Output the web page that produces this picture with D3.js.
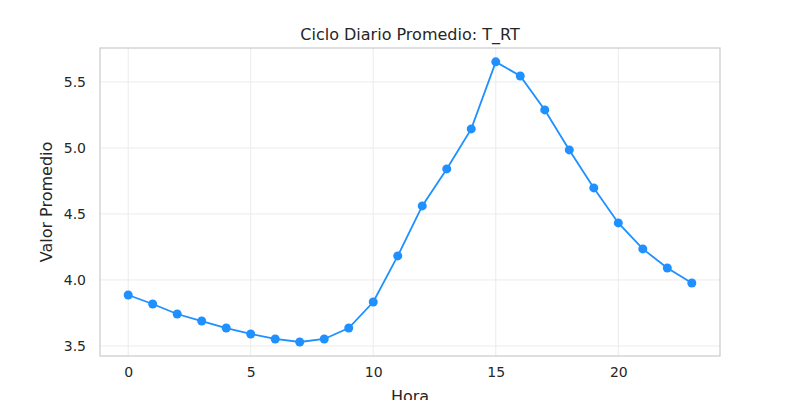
<!DOCTYPE html>
<html><head><meta charset="utf-8">
<script src="https://cdn.jsdelivr.net/npm/d3@7"></script>
<style>body{margin:0;background:#fff}text{font-family:"DejaVu Sans",sans-serif;fill:#262626}</style>
</head><body><div id="chart"></div>
<script>
let horas = d3.range(24);
let valores = [3.886, 3.818, 3.742, 3.689, 3.636, 3.591, 3.553, 3.530, 3.553, 3.636,
  3.833, 4.182, 4.561, 4.841, 5.144, 5.652, 5.545, 5.288, 4.985, 4.697,
  4.432, 4.235, 4.091, 3.977];
let xTicks = [0, 5, 10, 15, 20];
let yTicks = [3.5, 4.0, 4.5, 5.0, 5.5];

let width = 800, height = 400;
let m = {left: 100, right: 80, top: 48, bottom: 44};

let svg = d3.select("#chart").append("svg")
  .attr("width", width).attr("height", height);

let x = d3.scaleLinear().domain([-1.15, 24.15]).range([m.left, width - m.right]);
let y = d3.scaleLinear().domain([3.424, 5.757]).range([height - m.bottom, m.top]);

// grid
svg.append("g").selectAll("line").data(xTicks).enter().append("line")
  .attr("x1", d => x(d)).attr("x2", d => x(d))
  .attr("y1", m.top).attr("y2", height - m.bottom)
  .attr("stroke", "#ebebeb");
svg.append("g").selectAll("line").data(yTicks).enter().append("line")
  .attr("y1", d => y(d)).attr("y2", d => y(d))
  .attr("x1", m.left).attr("x2", width - m.right)
  .attr("stroke", "#ebebeb");

// frame
svg.append("rect")
  .attr("x", m.left).attr("y", m.top)
  .attr("width", width - m.left - m.right).attr("height", height - m.top - m.bottom)
  .attr("fill", "none").attr("stroke", "#cccccc").attr("stroke-width", 1.25);

let xAxis = svg.append("g").attr("transform", "translate(0," + (height - m.bottom) + ")")
  .call(d3.axisBottom(x).tickValues(xTicks).tickSize(0).tickPadding(11));
let yAxis = svg.append("g").attr("transform", "translate(" + m.left + ",0)")
  .call(d3.axisLeft(y).tickValues(yTicks).tickFormat(d3.format(".1f")).tickSize(0).tickPadding(14));
[xAxis, yAxis].forEach(a => {
  a.select(".domain").remove();
  a.selectAll("text").style("font-size", "14px").style("font-family", "DejaVu Sans").attr("fill", "#262626");
});

let line = d3.line().x((d, i) => x(horas[i])).y(d => y(d));
svg.append("path").datum(valores)
  .attr("d", line).attr("fill", "none").attr("stroke", "#1e90ff").attr("stroke-width", 1.8);
svg.append("g").selectAll("circle").data(valores).enter().append("circle")
  .attr("cx", (d, i) => x(horas[i])).attr("cy", d => y(d)).attr("r", 4.5)
  .attr("fill", "#1e90ff");

svg.append("text").attr("x", (m.left + width - m.right) / 2).attr("y", 40)
  .attr("text-anchor", "middle").style("font-size", "16px").text("Ciclo Diario Promedio: T_RT");
svg.append("text").attr("x", (m.left + width - m.right) / 2).attr("y", 402)
  .attr("text-anchor", "middle").style("font-size", "16px").text("Hora");
svg.append("text").attr("transform", "translate(52," + ((m.top + height - m.bottom) / 2) + ") rotate(-90)")
  .attr("text-anchor", "middle").style("font-size", "16px").text("Valor Promedio");
</script></body></html>
